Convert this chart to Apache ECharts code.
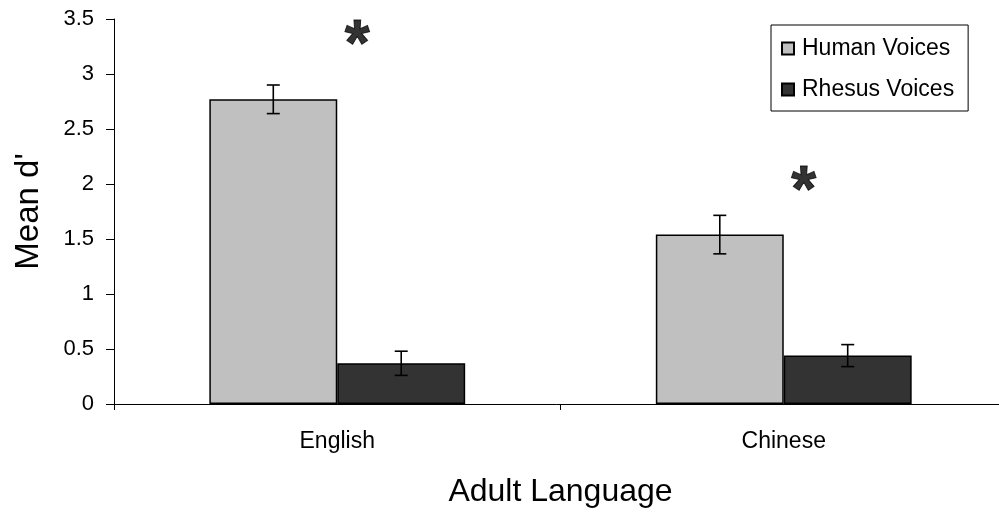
<!DOCTYPE html>
<html>
<head>
<meta charset="utf-8">
<script src="https://cdn.jsdelivr.net/npm/echarts@6/dist/echarts.min.js"></script>
<style>
  html, body { margin: 0; padding: 0; background: #fff; }
  #chart { width: 999px; height: 519px; }
</style>
</head>
<body>
<div id="chart"></div>
<script>
// data
const languages = ['English', 'Chinese']
const humanMean = [2.77, 1.54]
const humanErr = [0.13, 0.175]
const rhesusMean = [0.37, 0.44]
const rhesusErr = [0.11, 0.10]
const starLevel = [3.33, 2.01]
const yTicks = { min: 0, max: 3.5, step: 0.5 }

const FONT = "'Liberation Sans', Arial, sans-serif"
const GAP = 0.427

const chart = echarts.init(document.getElementById('chart'))

function errData(mean, err) {
  return mean.map((m, i) => [i, m - err[i], m + err[i]])
}

// whisker drawn at the centre of the left (-1) or right (+1) bar
function errorBar(side) {
  return function (params, api) {
    const band = api.size([1, 0])[0]
    const barW = band * (1 - GAP) / 2
    const lo = api.coord([api.value(0), api.value(1)])
    const hi = api.coord([api.value(0), api.value(2)])
    const x = lo[0] + side * barW / 2
    const cap = 6.5
    const style = { stroke: '#000', lineWidth: 1.6 }
    return {
      type: 'group',
      children: [
        { type: 'line', shape: { x1: x, y1: lo[1], x2: x, y2: hi[1] }, style },
        { type: 'line', shape: { x1: x - cap, y1: lo[1], x2: x + cap, y2: lo[1] }, style },
        { type: 'line', shape: { x1: x - cap, y1: hi[1], x2: x + cap, y2: hi[1] }, style }
      ]
    }
  }
}

const option = {
  animation: false,
  textStyle: { fontFamily: FONT, color: '#000' },
  grid: { left: 114, width: 893, top: 19, bottom: 115, outerBoundsMode: 'none', containLabel: false },
  legend: {
    orient: 'vertical',
    left: 771,
    top: 25,
    padding: [12, 14, 10, 10],
    itemGap: 18,
    itemWidth: 12,
    itemHeight: 12,
    borderColor: '#000',
    borderWidth: 1,
    icon: 'rect',
    textStyle: { fontSize: 23, color: '#000', fontFamily: FONT, padding: [0, 0, 0, 3] },
    data: ['Human Voices', 'Rhesus Voices']
  },
  xAxis: {
    type: 'category',
    data: languages,
    name: 'Adult Language',
    nameLocation: 'middle',
    nameGap: 72,
    nameTextStyle: { fontSize: 32, color: '#000', fontFamily: FONT },
    axisLine: { lineStyle: { color: '#000', width: 1 } },
    axisTick: { show: true, length: 6, lineStyle: { color: '#000' } },
    axisLabel: { fontSize: 23, color: '#000', margin: 26, fontFamily: FONT },
    splitLine: { show: false }
  },
  yAxis: {
    type: 'value',
    min: yTicks.min,
    max: yTicks.max,
    interval: yTicks.step,
    name: "Mean d'",
    nameLocation: 'middle',
    nameGap: 69,
    nameTextStyle: { fontSize: 33, color: '#000', fontFamily: FONT },
    axisLine: { show: true, lineStyle: { color: '#000', width: 1 } },
    axisTick: { show: true, length: 8, lineStyle: { color: '#000' } },
    axisLabel: { fontSize: 22, color: '#000', margin: 20, fontFamily: FONT },
    splitLine: { show: false }
  },
  series: [
    {
      name: 'Human Voices',
      type: 'bar',
      data: humanMean,
      barGap: 0,
      barCategoryGap: (GAP * 100) + '%',
      itemStyle: { color: '#c0c0c0', borderColor: '#000', borderWidth: 1.5 }
    },
    {
      name: 'Rhesus Voices',
      type: 'bar',
      data: rhesusMean,
      barGap: 0,
      barCategoryGap: (GAP * 100) + '%',
      itemStyle: { color: '#333333', borderColor: '#000', borderWidth: 1.5 }
    },
    {
      type: 'custom',
      renderItem: errorBar(-1),
      data: errData(humanMean, humanErr),
      encode: { x: 0, y: [1, 2] },
      z: 5
    },
    {
      type: 'custom',
      renderItem: errorBar(1),
      data: errData(rhesusMean, rhesusErr),
      encode: { x: 0, y: [1, 2] },
      z: 5
    },
    {
      type: 'scatter',
      data: starLevel,
      symbolSize: 0,
      silent: true,
      label: {
        show: true,
        formatter: '*',
        position: 'inside',
        offset: [20, 10],
        fontSize: 64,
        fontWeight: 'bold',
        color: '#000',
        textBorderColor: '#000',
        textBorderWidth: 1,
        fontFamily: FONT
      }
    }
  ]
}

chart.setOption(option)
</script>
</body>
</html>
